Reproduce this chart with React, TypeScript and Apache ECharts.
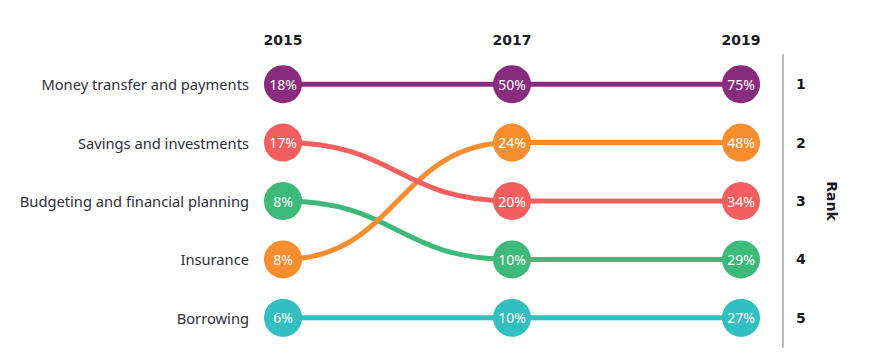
import React, { useEffect, useRef } from "react";
import * as echarts from "echarts";

const years = ["2015", "2017", "2019"];
const categories = [
  "Money transfer and payments",
  "Savings and investments",
  "Budgeting and financial planning",
  "Insurance",
  "Borrowing",
];
const rankLabels = ["1", "2", "3", "4", "5"];

// rank (1 = top) per year, and share (%) per year
const moneyRanks = [1, 1, 1];
const moneyValues = [18, 50, 75];
const savingsRanks = [2, 3, 3];
const savingsValues = [17, 20, 34];
const budgetingRanks = [3, 4, 4];
const budgetingValues = [8, 10, 29];
const insuranceRanks = [4, 2, 2];
const insuranceValues = [8, 24, 48];
const borrowingRanks = [5, 5, 5];
const borrowingValues = [6, 10, 27];

const seriesDefs = [
  { name: "Money transfer and payments", ranks: moneyRanks, values: moneyValues, color: "#8A2C7E" },
  { name: "Borrowing", ranks: borrowingRanks, values: borrowingValues, color: "#33BFC1" },
  { name: "Budgeting and financial planning", ranks: budgetingRanks, values: budgetingValues, color: "#3DB97A" },
  { name: "Insurance", ranks: insuranceRanks, values: insuranceValues, color: "#F68D2E" },
  { name: "Savings and investments", ranks: savingsRanks, values: savingsValues, color: "#F35F5F" },
];

export default function App() {
  const ref = useRef<HTMLDivElement>(null);
  useEffect(() => {
    document.body.style.margin = "0";
    if (!ref.current) return;
    const chart = echarts.init(ref.current, undefined, { renderer: "svg" });
    const series: any[] = [];
    seriesDefs.forEach((d, si) => {
      const segs: number[][] = [];
      for (let i = 0; i < d.ranks.length - 1; i++) {
        segs.push([i, d.ranks[i] - 1, i + 1, d.ranks[i + 1] - 1]);
      }
      series.push({
        type: "custom",
        name: d.name,
        z: 2 + si * 0.01,
        encode: { x: [0, 2], y: [1, 3] },
        data: segs,
        renderItem: (params: any, api: any) => {
          const p0 = api.coord([api.value(0), api.value(1)]);
          const p1 = api.coord([api.value(2), api.value(3)]);
          const dx = (p1[0] - p0[0]) * 0.5;
          return {
            type: "bezierCurve",
            shape: {
              x1: p0[0],
              y1: p0[1],
              x2: p1[0],
              y2: p1[1],
              cpx1: p0[0] + dx,
              cpy1: p0[1],
              cpx2: p1[0] - dx,
              cpy2: p1[1],
            },
            style: { stroke: d.color, lineWidth: 5, fill: "none" },
          };
        },
      });
    });
    seriesDefs.forEach((d) => {
      series.push({
        type: "scatter",
        name: d.name + " markers",
        z: 5,
        symbol: "circle",
        symbolSize: 38,
        itemStyle: { color: d.color, opacity: 1 },
        label: {
          show: true,
          position: "inside",
          color: "#ffffff",
          fontSize: 14,
          fontFamily: "Noto Sans",
          formatter: (p: any) => p.value[2] + "%",
        },
        data: d.ranks.map((r, i) => [i, r - 1, d.values[i]]),
      });
    });

    chart.setOption({
      animation: false,
      grid: { left: 283, right: 132, top: 55, bottom: 16 },
      xAxis: {
        type: "category",
        data: years,
        position: "top",
        boundaryGap: false,
        axisLine: { show: false },
        axisTick: { show: false },
        splitLine: { show: false },
        axisLabel: {
          margin: 8,
          color: "#1a1a24",
          fontWeight: "bold",
          fontSize: 14,
          fontFamily: "DejaVu Sans",
        },
      },
      yAxis: [
        {
          type: "category",
          data: categories,
          inverse: true,
          position: "left",
          axisLine: { show: false },
          axisTick: { show: false },
          splitLine: { show: false },
          axisLabel: {
            margin: 34,
            color: "#2e2e38",
            fontSize: 14.7,
            fontFamily: "Noto Sans",
          },
        },
        {
          type: "category",
          data: rankLabels,
          inverse: true,
          position: "right",
          offset: 42,
          axisLine: { show: true, lineStyle: { color: "#b9bcc3", width: 2 } },
          axisTick: { show: false },
          splitLine: { show: false },
          axisLabel: {
            margin: 13,
            color: "#1a1a24",
            fontWeight: "bold",
            fontSize: 14,
            fontFamily: "DejaVu Sans",
          },
          name: "Rank",
          nameLocation: "middle",
          nameRotate: -90,
          nameGap: 42,
          nameTextStyle: {
            color: "#1a1a24",
            fontWeight: "bold",
            fontSize: 14,
            fontFamily: "DejaVu Sans",
          },
        },
      ],
      series,
    });
    return () => chart.dispose();
  }, []);
  return <div ref={ref} style={{ width: 873, height: 363 }} />;
}
